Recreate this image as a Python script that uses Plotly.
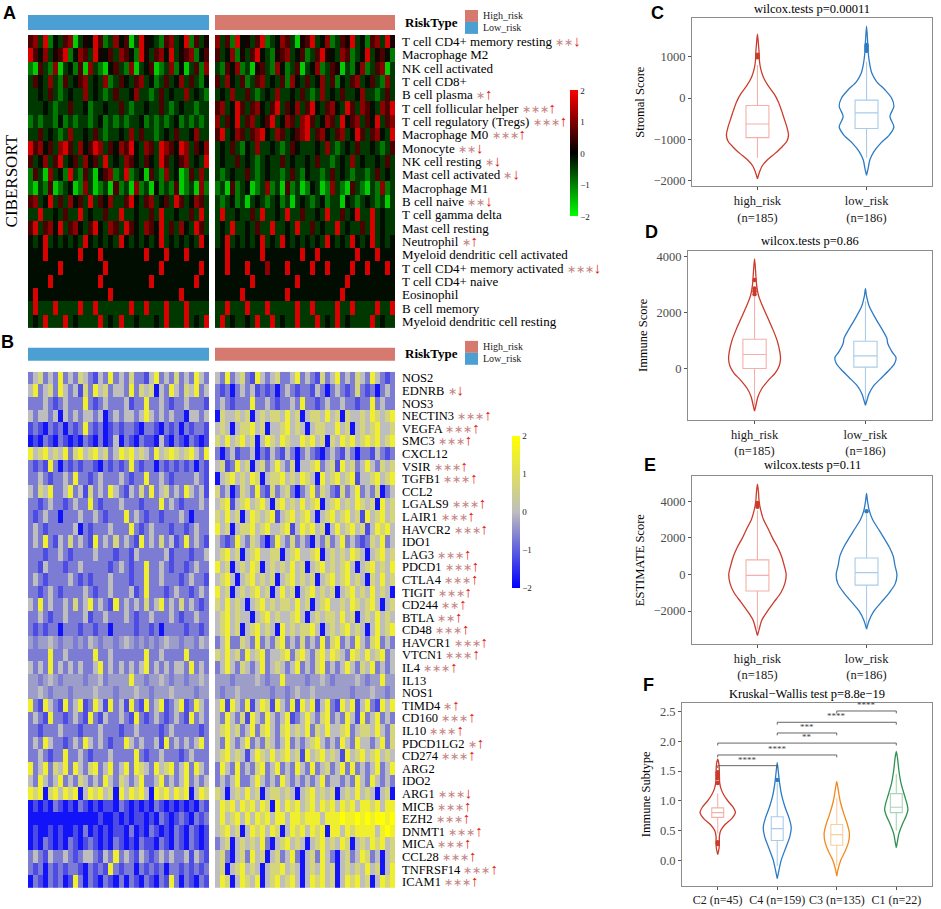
import plotly.graph_objects as go

W, H = 941, 909
SERIF = "Liberation Serif"

# ---------------- A: CIBERSORT heatmap (coarse columns) ----------------
cibersort_cells = [
    "T cell CD4+ memory resting", "Macrophage M2", "NK cell activated", "T cell CD8+",
    "B cell plasma", "T cell follicular helper", "T cell regulatory (Tregs)", "Macrophage M0",
    "Monocyte", "NK cell resting", "Mast cell activated", "Macrophage M1", "B cell naive",
    "T cell gamma delta", "Mast cell resting", "Neutrophil", "Myeloid dendritic cell activated",
    "T cell CD4+ memory activated", "T cell CD4+ naive", "Eosinophil", "B cell memory",
    "Myeloid dendritic cell resting",
]
cibersort_stars = ["**", "", "", "", "*", "***", "***", "***", "**", "*", "*", "", "**",
                   "", "", "*", "", "***", "", "", "", ""]
cibersort_arrow = ["↓", "", "", "", "↑", "↑", "↑", "↑", "↓", "↓", "↓", "", "↓",
                   "", "", "↑", "", "↓", "", "", "", ""]

# G bright green ... k black ... R bright red
A_LEVELS = {"G": -1.6, "g": -0.95, "d": -0.45, "k": -0.1, "o": 0.2, "m": 0.6, "r": 1.1, "R": 1.7}
cibersort_low = [
    "mrdRgk dmrGdo kRmgdr kmGdRo kdgmrd kRgmdo",
    "Rmkrdo mRgkrm dRokmd rmkgRo dmrkRd omrgkm",
    "gGmdgr GdkgmG rdgGkm dgrGdk mGgdrg kGdmgr",
    "dmkdrd gmdkmr dkdrgd mkdmrd kgdmdk rdmdgk",
    "ddkdmd gdkddr dkdgdm ddkrdd gdmdkd drdkdg",
    "dddkdg ddmddk gddkdd mdgddk ddmdgd kddgdd",
    "gdgddg kgdgdd gdkgdg dgddkg dgdgdk gdgdgd",
    "ddmdkd gdrddk dmdgdd kdrdmd dgdkdm ddkrdd",
    "Rmrkmd rRmdrk mRrdmk rmRkdr mdRrmk Rrdmkr",
    "mdkrdm Rdkmdr kmdRdk drmkdm kdRmdk mrdkdR",
    "gmdGrd kgRdgm dGkmrg dRgdkG mdgrdk Ggmdrd",
    "gGdgmG gdkGgr dGgdGm gdGrgd Gkgdgm GgdGrg",
    "mrdkRd mdrkmd Rdmkrd dmRkdm rdkmdR mdkrmd",
    "ddRddk dmddRd kddmdd Rddkdd mdRddk ddmdRd",
    "mRdmrk Rdmrkd mRkdrm dRmkdr mkRdmd rkdRmd",
    "kdkRdk dkdkdR kdkdkd Rkdkdk dkRdkd kdkdRk",
    "kkkRkk kkkkRk kkRkkk kkkkkR kkkRkk kRkkkk",
    "kkkkkk Rkkkkk kkkRkk kkkkkk kkRkkk kkkkRk",
    "kkkkRk kkkkkk kkRkkk kkkkkk Rkkkkk kkkRkk",
    "kRkkkk kkkkkk kkkkRk kkkkkk kkkkkk Rkkkkk",
    "dRdddR ddddRd dRdddd ddRddR dddRdd dRdddd",
    "dkdRdd dRdkdd ddRdkd Rddkdd dkdRdd dRdkdR",
]
cibersort_high = [
    "rdmgRk odmRgd krmdGo mRdkrg dmoRdk gmrdRo",
    "mdkrgo dmRkdg omrdkm gdmRok drmgdk Rdomkg",
    "dgmkrg dGomdg rkgdmG dkrgdm oGdgkr gdmrGd",
    "mdrkdm gdmrdk dmgrkd mdkrdm gkdmrd kmdgrd",
    "dkdrdd mdgdkd rddkdm dgdrdk dmddkr ddgdmd",
    "mrdkRm dmrkdm Rdmkrd mRkdmr kdRmdr mkdrmR",
    "rdmkRd mrdkmR dkrmdr Rmdkrm dRkmrd mkRdmr",
    "mRdkrm dmrRkd rmdkmr Rdmrkd mrdkRm dmrkdR",
    "dkdmdg kdrddk dgdmkd ddkdrd gdkdmd dkdgdm",
    "dkddmd kdgdkd dmdkdd kdmddg dkdrdk ddkdmd",
    "dgdkdd mdgdkd dgdmdg kddgdm dkdgdd gdmdkd",
    "gdGmgd kGgdrg dGmgdG gkdGgr dgGmdg Gdgrgd",
    "dgdkgd Gdkdgd kgdGdk dgdkgd dGkdgd kdgdGd",
    "dRddkd dmdRdd kdRddm ddkdRd dmdkRd dRdkdd",
    "dkdRdd kdmddR ddkdRd dmdkdd Rdkddm dRdkdd",
    "dkRdkd kdkRdk dRkdkd kdkdRk dkdRkd kRdkdk",
    "kkRkkk kkkRkk kkkkkR kkRkkk kkkkRk kkRkkk",
    "kkRkkk Rkkkrk kkRkkk kRkkRk kkkRkk RkkkRk",
    "kkkkkk kRkkkk kkkkRk kkkkkk kkRkkk kkkkkk",
    "kkkkkR kkkkkk kkRkkk kkkkkk kRkkkk kkkkkk",
    "ddRddd RdddRd ddddRd dRdddd RddRdd ddRddR",
    "dRdkdd kdRddR dkddRd ddRdkd Rdkddd dRdkdd",
]

# ---------------- B: immune checkpoint genes heatmap ----------------
genes = [
    "NOS2", "EDNRB", "NOS3", "NECTIN3", "VEGFA", "SMC3", "CXCL12", "VSIR", "TGFB1", "CCL2",
    "LGALS9", "LAIR1", "HAVCR2", "IDO1", "LAG3", "PDCD1", "CTLA4", "TIGIT", "CD244", "BTLA",
    "CD48", "HAVCR1", "VTCN1", "IL4", "IL13", "NOS1", "TIMD4", "CD160", "IL10", "PDCD1LG2",
    "CD274", "ARG2", "IDO2", "ARG1", "MICB", "EZH2", "DNMT1", "MICA", "CCL28", "TNFRSF14", "ICAM1",
]
gene_stars = ["", "*", "", "***", "***", "***", "", "***", "***", "", "***", "***", "***", "",
              "***", "***", "***", "***", "**", "**", "***", "***", "***", "***", "", "", "*",
              "***", "***", "*", "***", "", "", "***", "***", "***", "***", "***", "***", "***", "***"]
gene_arrow = ["", "↓", "", "↑", "↑", "↑", "", "↑", "↑", "", "↑", "↑", "↑", "",
              "↑", "↑", "↑", "↑", "↑", "↑", "↑", "↑", "↑", "↑", "", "", "↑",
              "↑", "↑", "↑", "↑", "", "", "↓", "↑", "↑", "↑", "↑", "↑", "↑", "↑"]

# B blue ... n grey ... Z bright yellow
B_LEVELS = {"B": -1.8, "b": -1.2, "l": -0.7, "m": -0.35, "n": 0.0, "y": 0.7, "Y": 1.5, "Z": 2.0}
genes_low = [
    "lnylnl Ylnlyn lbnlYl nlyllb nYlnly lnlYnl",
    "nYlnyl Ynlnby lYnyln nlYlyn yBnlYn lynYln",
    "lllnlb lnlllY lblnll lnbllY llnlbl lnlllb",
    "nlnnln Bnlnln nlnBln lnnlnY nlnlnl lBnnln",
    "blbBlb lBlblY lblBbl bllbBl lbBlbl Blbllb",
    "BbBlbB lbBbBl bBlBbn BlbBlb bBnbBl bBlbBb",
    "YnyYny nYlyYn yYnyln YyYnyn lYnyYy nyYnlY",
    "lblbYl Blblbl lbBlbl blYlbl lBlblb lblBlb",
    "llnlbl lnlYll blnlll nlbllY llnlbl lllnlb",
    "nlynYl lnYlnb ylnlYn lbnlyl Ylnyln lYnlnb",
    "llblnl lblnll Ylblll nlllbl llYlnl blllnl",
    "lblnll Blllnl lnlbll lYlnlb llblll nlBlll",
    "lnlbll lllnBl blllnl llYlbl nlllbl lblnll",
    "lnlYlb nlylnl bYlnly lnlbYl nlylnb lYlnlb",
    "lllbll nlblll lnlllb llbnll lllnbl llblln",
    "llbnll lbllnl llllbl nlbllY llnlbl lblnll",
    "lnlbll llnlbl blllnl llbllY llnlll blnllb",
    "llblnl blllln lbllnl llnblY lllbln llblnl",
    "nlYlnl lnlyln YlnlbY lnlnly lnYlnl ylnlbl",
    "llnlbl lnllln bllnll lnlbll nlllnl bllnll",
    "lblbll Blllbl lbllBl lllbll blBlll lbllbl",
    "mlmmnm lmmlml nmlmml mnmlml mlmnmm lmmlnm",
    "llllYl lnllll lYllnl lllllY llnlll lYllll",
    "nlnlYl nlnlnl lnYlnl nlnlnY lnlnln nlYlnl",
    "mmlmnm lmmmml mmnlmm mmYmml mmnmlm mlmmnm",
    "mmnmlm mmlmmm mnmmml mmmnmm lmmmnm mmmlmm",
    "YlbYnl bYlnYb lYnbYl nbYlbY lnYbln YblYnl",
    "lnlbYl lblnlb Ylbnll nlbYlb lnlbln lbYlnl",
    "llblll nlllbl llnlll bllnll llblnl llllbl",
    "lnlYnl lblnlY nlnlbl lYnlnl lnbYln lnlnYl",
    "llnlbl lYllnl blllnl lllYlb llnlll blnlll",
    "YlnYly nYlYnl yYlnYl nYlYyn lYnyYl nYlYnl",
    "nlYnln Ylnlyn lnlYnl ynlnYl lnYlnl nYlnln",
    "YyYByY nYyYBn YyYnyB YnYyYn BYyYnY yYBnYy",
    "BbBbBl bBbBlb BbBbbB lbBbBb BlbBbB bBbBlb",
    "BBBBBB BBBBBB BBbBBb BbBbbB bBlbBb lbBlbl",
    "BbBBbB bBBbBl BbBbBb bBlBbB lbBbBl bBlbBb",
    "BbBlbB bBlbBb lbBbBl bBbBlb bBlbBl bBlbBb",
    "lnlbnl lnlbln nlbnlY lnlbnl blnlnl lnbnlb",
    "lblBlb lbllbB lblbYl bllBlb lblBll blblbl",
    "BlbBlb lBbYlB lbBlbB lBlbBl bBlbYl BlbBlb",
]
genes_high = [
    "nlYlny lbYnln yllnYl nlbyln Ylnlyn lYnlbl",
    "lblBln lnblbl Blnlbl lbnlBl nlblyl blBlnl",
    "lnlbll lYllnl bllnlY llblnl lnllbl lYlnll",
    "Bynnyn yBnyny ynYnyB nyynYn yBynny nYynyY",
    "nynBny yYnyBn nyYnyn Bnyynn YnyBny nyYnny",
    "ynYnyY nyBnYy nYynnY yYnyBy nYyYny YyYnyY",
    "lBlnbl lnBlbn lbnlBl nlbBln lbnlBl lbnlbl",
    "nyblYn yBnyln YnlyBn nyYlny bYnyln Ynlyny",
    "BnyYny nYyBny yYnynY ynBYny YnyYbn nyYnyY",
    "ylnBly nlYlby lnylBl nYlynl bylnYl nlyBln",
    "nyYbny YnyYnB yYnynY nyYBny YnynYy nyBYny",
    "ynYnyB nYynyY bnyYny YnBnyY nyYnyb YnyYny",
    "YnyBny yYnyYn nyYbnY yYnyBn YnyYny bnYyYn",
    "nlblYn lynlBl Ynlyln lBnlyl nYlnlb lynYln",
    "nyYnyB nyYnny yBnyYn nyYBny nynYyn BnyYny",
    "YnyBny nYyBny nynYny BnyYny nyYnBn yYnynY",
    "nyYnBn yYnyny BnyYny nyBnyY nyYnyn BynYny",
    "YnyBny nyYnyB nYnyBn yYnyny BnyYny nYnynB",
    "ynYnyn BnyYny nyynYn yBnyYn nynYyn yYnBny",
    "nyYnyn nBnyYn ynnyYn Bnynyy nYnyBn ynYnyn",
    "nyYnyB nyYnyn BYnyny yYnBny nyYnyn BnYnyY",
    "lnYlly nlYlnl yYlnly lnlYly YlnlYn lyYlnl",
    "ynYnyl YnyYln nyYlyY nlyYnY ynlYyn YnyYln",
    "lnYnly nlnYln ynlnYl nlyYln lnYnly nYlnln",
    "mmmlmm mmnmlm mYmmmm lmmnml mmmmnm lmmYmm",
    "mlmmnm mmmmml mmlmnm mnmmmm mmmlmm mnmmlm",
    "nYbYnl YbnYyb YnlYbY nYbnYl bYnYbn YlbYnY",
    "nlYnly bYnlYn lnYbln YnlyYl nlYnbY lnYlnl",
    "nyYnyl nYlyYn lyYnyn YlynYn nyYlny ynYnly",
    "nlYnln Ylnlyn lnYlnl nyYnln lYnlYn nlnYly",
    "nyYnyn bnYynY nyYnyb YnyYny nbYnyY nyYnyn",
    "lYnlYl nlyYln YlnlYn lYlnyl nYlYln lnYlnY",
    "lnlnYl lnYnln lYnlnl nlnYln nlnlYn lYnlnl",
    "ynBnyn YnyBny ynynBn yYnyny BnynYn ynBnyB",
    "nYyYnY yYnYyB YnYyYn yYnYyY nYyYnY YyYnYY",
    "nYnyYn YnYyYn YYnYYy YYYnYY YZYYZY ZYZZYZ",
    "nyYnyB nYyYnY yBnYyY nYyYBY YnYyYY YYnYZY",
    "lnyBny nynYlB nyYnyn BnyYny nYyBny nYyYny",
    "nylBny lYnyBn ylnYlB nylYnl BnylnY ylnBny",
    "nyBnyY nynBny yYnynB nynYny Bnynyn YnyBnY",
    "nYyBnY ynYBny YnyYnB nYyYny BnYyYn yBnYyY",
]

# ---------------- C-E: ESTIMATE scores by risk group ----------------
risk_groups = ["high_risk<br>(n=185)", "low_risk<br>(n=186)"]

stromal_high_y = [1550, 1300, 1100, 900, 700, 500, 300, 100, -100, -300, -500, -700, -900, -1050, -1200, -1350, -1500, -1650, -1800, -1960]
stromal_high_w = [0, 3, 5, 6, 10, 18, 32, 50, 63, 72, 80, 88, 93, 88, 72, 52, 30, 14, 6, 0]
stromal_low_y = [1744, 1400, 1100, 800, 600, 400, 200, 0, -200, -450, -700, -900, -1100, -1300, -1500, -1700, -1880]
stromal_low_w = [0, 3, 5, 10, 16, 30, 55, 75, 82, 70, 82, 68, 42, 22, 10, 5, 0]
stromal_box = {"q1": [-960, -740], "median": [-630, -360], "q3": [-180, -50],
               "lower": [-1450, -1450], "upper": [800, 880]}
stromal_out = [[990, 1020, 1050], [1150, 1200, 1250, 1290]]

immune_high_y = [3906, 3500, 3000, 2600, 2200, 1800, 1400, 1000, 600, 350, 100, -150, -400, -700, -1000, -1250, -1506]
immune_high_w = [0, 3, 6, 12, 25, 40, 55, 68, 76, 78, 74, 62, 42, 22, 10, 5, 0]
immune_low_y = [2847, 2600, 2200, 1800, 1400, 1100, 900, 600, 400, 200, 0, -300, -600, -900, -1100, -1294]
immune_low_w = [0, 3, 12, 30, 50, 64, 67, 80, 92, 88, 75, 50, 25, 10, 5, 0]
immune_box = {"q1": [10, 60], "median": [510, 460], "q3": [1050, 980],
              "lower": [-1300, -1250], "upper": [2550, 2400]}
immune_out = [[2650, 2750, 2850, 3150], []]

estimate_high_y = [4940, 4500, 4000, 3500, 3000, 2500, 2000, 1500, 1000, 500, 0, -500, -1000, -1500, -2000, -2500, -3000, -3345]
estimate_high_w = [0, 3, 5, 10, 18, 32, 45, 60, 72, 80, 86, 82, 70, 50, 30, 13, 5, 0]
estimate_low_y = [4430, 4000, 3500, 3000, 2500, 2000, 1500, 1000, 500, 0, -500, -1000, -1500, -2000, -2500, -2984]
estimate_low_w = [0, 3, 8, 18, 35, 52, 68, 80, 85, 91, 86, 68, 45, 22, 8, 0]
estimate_box = {"q1": [-900, -580], "median": [-50, 100], "q3": [800, 900],
                "lower": [-3000, -2800], "upper": [3500, 3300]}
estimate_out = [[3700, 3800, 3900], [3450]]

# ---------------- F: immune subtypes ----------------
subtypes = ["C2 (n=45)", "C4 (n=159)", "C3 (n=135)", "C1 (n=22)"]
sub_y = [
    [1.70, 1.6, 1.45, 1.3, 1.2, 1.1, 1.0, 0.9, 0.8, 0.7, 0.6, 0.5, 0.4, 0.3, 0.2, 0.095],
    [1.64, 1.5, 1.3, 1.1, 0.9, 0.7, 0.55, 0.4, 0.2, 0.0, -0.2, -0.31],
    [1.32, 1.2, 1.0, 0.8, 0.6, 0.45, 0.3, 0.15, 0.0, -0.15, -0.27],
    [1.83, 1.7, 1.5, 1.3, 1.1, 0.95, 0.85, 0.75, 0.6, 0.45, 0.3, 0.21],
]
sub_w = [
    [0, 4, 5, 6, 10, 18, 30, 45, 53, 42, 22, 9, 5, 5, 4, 0],
    [0, 3, 7, 13, 23, 36, 42, 38, 25, 12, 4, 0],
    [0, 4, 10, 20, 32, 38, 35, 25, 12, 4, 0],
    [0, 4, 8, 14, 24, 32, 35, 30, 18, 8, 3, 0],
]
sub_box = {"q1": [0.72, 0.33, 0.25, 0.80], "median": [0.80, 0.53, 0.43, 0.89],
           "q3": [0.88, 0.73, 0.60, 1.12], "lower": [0.45, -0.1, -0.1, 0.5],
           "upper": [1.12, 1.30, 1.05, 1.45]}
sub_out = [[0.27, 0.30, 1.30, 1.38, 1.42, 1.45, 1.48], [1.35], [], []]

sig_left = [0, 0, 0, 1, 1, 2]
sig_right = [1, 2, 3, 2, 3, 3]
sig_height = [1.59, 1.77, 1.97, 2.14, 2.32, 2.51]
sig_text = ["****", "****", "**", "***", "****", "****"]

RED, BLUE, ORANGE, GREEN = "#CB3B2B", "#2C7BC4", "#F08A1E", "#2F9150"
RED_L, BLUE_L, ORANGE_L, GREEN_L = "#F3B1A9", "#A9CCEA", "#F9CE9C", "#A8D6B4"


def px(x):
    return x / W


def py(y):
    return 1 - y / H


def decode(rows, levels):
    return [[levels[c] for c in r.replace(" ", "")] for r in rows]


def row_label(name, stars, arrow):
    s = name
    if stars:
        s += " <span style='color:#c48484;font-size:11px'>" + stars.replace("*", "∗") + "</span>"
    if arrow:
        s += "<span style='color:#e3170a;font-size:15px'>" + arrow + "</span>"
    return s


fig = go.Figure()

# heatmaps
zA_low, zA_high = decode(cibersort_low, A_LEVELS), decode(cibersort_high, A_LEVELS)
zB_low, zB_high = decode(genes_low, B_LEVELS), decode(genes_high, B_LEVELS)
fig.add_trace(go.Heatmap(z=zA_low, coloraxis="coloraxis", xaxis="x", yaxis="y", hoverinfo="skip"))
fig.add_trace(go.Heatmap(z=zA_high, coloraxis="coloraxis", xaxis="x2", yaxis="y", hoverinfo="skip"))
fig.add_trace(go.Heatmap(z=zB_low, coloraxis="coloraxis2", xaxis="x3", yaxis="y2", hoverinfo="skip"))
fig.add_trace(go.Heatmap(z=zB_high, coloraxis="coloraxis2", xaxis="x4", yaxis="y2", hoverinfo="skip"))


def add_violins(xa, ya, centers, ys, ws, scale, colors, light, box, outliers, bw):
    for i, c in enumerate(centers):
        xs = [c + w * scale for w in ws[i]] + [c - w * scale for w in reversed(ws[i])]
        yy = list(ys[i]) + list(reversed(ys[i]))
        fig.add_trace(go.Scatter(x=xs, y=yy, mode="lines", xaxis=xa, yaxis=ya,
                                 line=dict(color=colors[i], width=1.3, shape="spline", smoothing=0.8),
                                 hoverinfo="skip"))
        fig.add_trace(go.Box(x=[c], q1=[box["q1"][i]], median=[box["median"][i]], q3=[box["q3"][i]],
                             lowerfence=[box["lower"][i]], upperfence=[box["upper"][i]],
                             xaxis=xa, yaxis=ya, width=bw, whiskerwidth=0, boxpoints=False,
                             line=dict(color=light[i], width=1.1), fillcolor="rgba(0,0,0,0)",
                             hoverinfo="skip"))
        if outliers[i]:
            fig.add_trace(go.Scatter(x=[c] * len(outliers[i]), y=outliers[i], mode="markers",
                                     xaxis=xa, yaxis=ya, marker=dict(color=colors[i], size=4.5),
                                     hoverinfo="skip"))


add_violins("x5", "y3", [0, 1], [stromal_high_y, stromal_low_y], [stromal_high_w, stromal_low_w],
            0.00306, [RED, BLUE], [RED_L, BLUE_L], stromal_box, stromal_out, 0.21)
add_violins("x6", "y4", [0, 1], [immune_high_y, immune_low_y], [immune_high_w, immune_low_w],
            0.0030, [RED, BLUE], [RED_L, BLUE_L], immune_box, immune_out, 0.21)
add_violins("x7", "y5", [0, 1], [estimate_high_y, estimate_low_y], [estimate_high_w, estimate_low_w],
            0.00306, [RED, BLUE], [RED_L, BLUE_L], estimate_box, estimate_out, 0.21)
add_violins("x8", "y6", [0, 1, 2, 3], sub_y, sub_w, 0.0056, [RED, BLUE, ORANGE, GREEN],
            [RED_L, BLUE_L, ORANGE_L, GREEN_L], sub_box, sub_out, 0.2)

# significance brackets in F
for a, b, h, t in zip(sig_left, sig_right, sig_height, sig_text):
    fig.add_trace(go.Scatter(x=[a, a, b, b], y=[h - 0.04, h, h, h - 0.04], mode="lines",
                             xaxis="x8", yaxis="y6", line=dict(color="#555555", width=0.9),
                             hoverinfo="skip"))
    fig.add_annotation(x=(a + b) / 2, y=h, xref="x8", yref="y6", text=t, showarrow=False,
                       xanchor="center", yanchor="bottom", yshift=-1,
                       font=dict(family=SERIF, size=9, color="#444444"))

axis_off = dict(visible=False, showgrid=False, zeroline=False)
heat_y = dict(side="right", autorange="reversed", showgrid=False, zeroline=False, showline=False,
              ticks="", tickmode="array", ticklabelstandoff=6)

frame = dict(showline=True, mirror=True, linecolor="#8c8c8c", linewidth=1, showgrid=False,
             zeroline=False, ticks="outside", ticklen=3, tickcolor="#555555")
vx = dict(frame, tickangle=0, tickfont=dict(family=SERIF, size=12.5, color="#1a1a1a"))
vy = dict(frame, tickfont=dict(family=SERIF, size=12.5, color="#4d4d4d"))
ytitle = lambda s: dict(text=s, font=dict(family=SERIF, size=12.5, color="#000000"), standoff=6)

fig.update_layout(
    width=W, height=H, margin=dict(l=0, r=0, t=0, b=0),
    paper_bgcolor="white", plot_bgcolor="white", showlegend=False,
    font=dict(family=SERIF),
    xaxis=dict(axis_off, domain=[px(28), px(209)], range=[-0.5, 35.5]),
    xaxis2=dict(axis_off, domain=[px(215), px(395)], range=[-0.5, 35.5]),
    xaxis3=dict(axis_off, domain=[px(28), px(209)], range=[-0.5, 35.5]),
    xaxis4=dict(axis_off, domain=[px(215), px(395)], range=[-0.5, 35.5]),
    yaxis=dict(heat_y, domain=[py(327), py(33)], anchor="x2",
               tickfont=dict(family=SERIF, size=13, color="#000000"),
               tickvals=list(range(len(cibersort_cells))),
               ticktext=[row_label(*r) for r in zip(cibersort_cells, cibersort_stars, cibersort_arrow)]),
    yaxis2=dict(heat_y, domain=[py(889), py(371)], anchor="x4",
                tickfont=dict(family=SERIF, size=12.5, color="#000000"),
                tickvals=list(range(len(genes))),
                ticktext=[row_label(*r) for r in zip(genes, gene_stars, gene_arrow)]),
    coloraxis=dict(cmin=-2, cmax=2,
                   colorscale=[[0, "#00FF00"], [0.5, "#000000"], [1, "#FF0000"]],
                   colorbar=dict(x=px(570), xanchor="left", y=py(152), yanchor="middle",
                                 len=126 / H, thickness=8, outlinewidth=0, xpad=0, ypad=0,
                                 tickvals=[-2, -1, 0, 1, 2], ticktext=["−2", "−1", "0", "1", "2"],
                                 ticks="", tickfont=dict(family=SERIF, size=9, color="#222"))),
    coloraxis2=dict(cmin=-2, cmax=2,
                    colorscale=[[0, "#0000FF"], [0.5, "#BEBEBE"], [1, "#FFFF00"]],
                    colorbar=dict(x=px(512), xanchor="left", y=py(512), yanchor="middle",
                                  len=153 / H, thickness=8, outlinewidth=0, xpad=0, ypad=0,
                                  tickvals=[-2, -1, 0, 1, 2], ticktext=["−2", "−1", "0", "1", "2"],
                                  ticks="", tickfont=dict(family=SERIF, size=9, color="#222"))),
    xaxis5=dict(vx, domain=[px(692), px(932)], range=[-0.6, 1.6], anchor="y3",
                tickvals=[0, 1], ticktext=risk_groups),
    yaxis3=dict(vy, domain=[py(185), py(16)], range=[-2145, 1944], anchor="x5",
                tickvals=[-2000, -1000, 0, 1000], title=ytitle("Stromal Score")),
    xaxis6=dict(vx, domain=[px(688), px(932)], range=[-0.6, 1.6], anchor="y4",
                tickvals=[0, 1], ticktext=risk_groups),
    yaxis4=dict(vy, domain=[py(419), py(250)], range=[-1805, 4177], anchor="x6",
                tickvals=[0, 2000, 4000], title=ytitle("Immune Score")),
    xaxis7=dict(vx, domain=[px(692), px(932)], range=[-0.6, 1.6], anchor="y5",
                tickvals=[0, 1], ticktext=risk_groups),
    yaxis5=dict(vy, domain=[py(644), py(476)], range=[-3793, 5359], anchor="x7",
                tickvals=[-2000, 0, 2000, 4000], title=ytitle("ESTIMATE Score")),
    xaxis8=dict(vx, domain=[px(682), px(932)], range=[-0.6, 3.6], anchor="y6",
                tickvals=[0, 1, 2, 3], ticktext=subtypes,
                tickfont=dict(family=SERIF, size=12, color="#1a1a1a")),
    yaxis6=dict(vy, domain=[py(887), py(703)], range=[-0.436, 2.65], anchor="x8",
                tickvals=[0, 0.5, 1, 1.5, 2, 2.5], tickformat=".1f", title=ytitle("Immune Subtype")),
)

# risk-type annotation bars above the heatmaps
LOW_C, HIGH_C = "#4B9FD3", "#D6796E"
for xa, y0, y1 in [("x", 13, 28), ("x3", 347, 360)]:
    fig.add_shape(type="rect", xref=xa + " domain", yref="paper", x0=0, x1=1, y0=py(y1), y1=py(y0),
                  fillcolor=LOW_C, line=dict(width=0))
for xa, y0, y1 in [("x2", 13, 28), ("x4", 347, 360)]:
    fig.add_shape(type="rect", xref=xa + " domain", yref="paper", x0=0, x1=1, y0=py(y1), y1=py(y0),
                  fillcolor=HIGH_C, line=dict(width=0))


def note(text, x, y, size, color="#000", family=SERIF, xanchor="center", angle=0):
    fig.add_annotation(x=px(x), y=py(y), xref="paper", yref="paper", text=text, showarrow=False,
                       xanchor=xanchor, yanchor="middle", textangle=angle,
                       font=dict(family=family, size=size, color=color))


# RiskType legends
for top in [8, 340]:
    fig.add_shape(type="rect", xref="paper", yref="paper", x0=px(465), x1=px(478),
                  y0=py(top + 12), y1=py(top), fillcolor=HIGH_C, line=dict(width=0))
    fig.add_shape(type="rect", xref="paper", yref="paper", x0=px(465), x1=px(478),
                  y0=py(top + 24), y1=py(top + 12), fillcolor=LOW_C, line=dict(width=0))
    note("<b>RiskType</b>", 403, top + 13, 13, xanchor="left")
    note("High_risk", 481, top + 6, 10, "#222", xanchor="left")
    note("Low_risk", 481, top + 18, 10, "#222", xanchor="left")

note("CIBERSORT", 11, 180, 17, angle=-90)

# panel titles
for txt, x, y in [("wilcox.tests p=0.00011", 812, 7), ("wilcox.tests p=0.86", 810, 240),
                  ("wilcox.tests p=0.11", 812, 465), ("Kruskal−Wallis test p=8.8e−19", 807, 694)]:
    note(txt, x, y, 12.5)

# panel letters
for txt, x, y in [("A", 9, 11), ("B", 8, 341), ("C", 657, 11), ("D", 651, 231),
                  ("E", 650, 465), ("F", 648, 685)]:
    note("<b>" + txt + "</b>", x, y, 18, family="Liberation Sans")

fig.write_html("out.html", config={"displayModeBar": False},
               post_script="document.body.style.margin='0px';")
